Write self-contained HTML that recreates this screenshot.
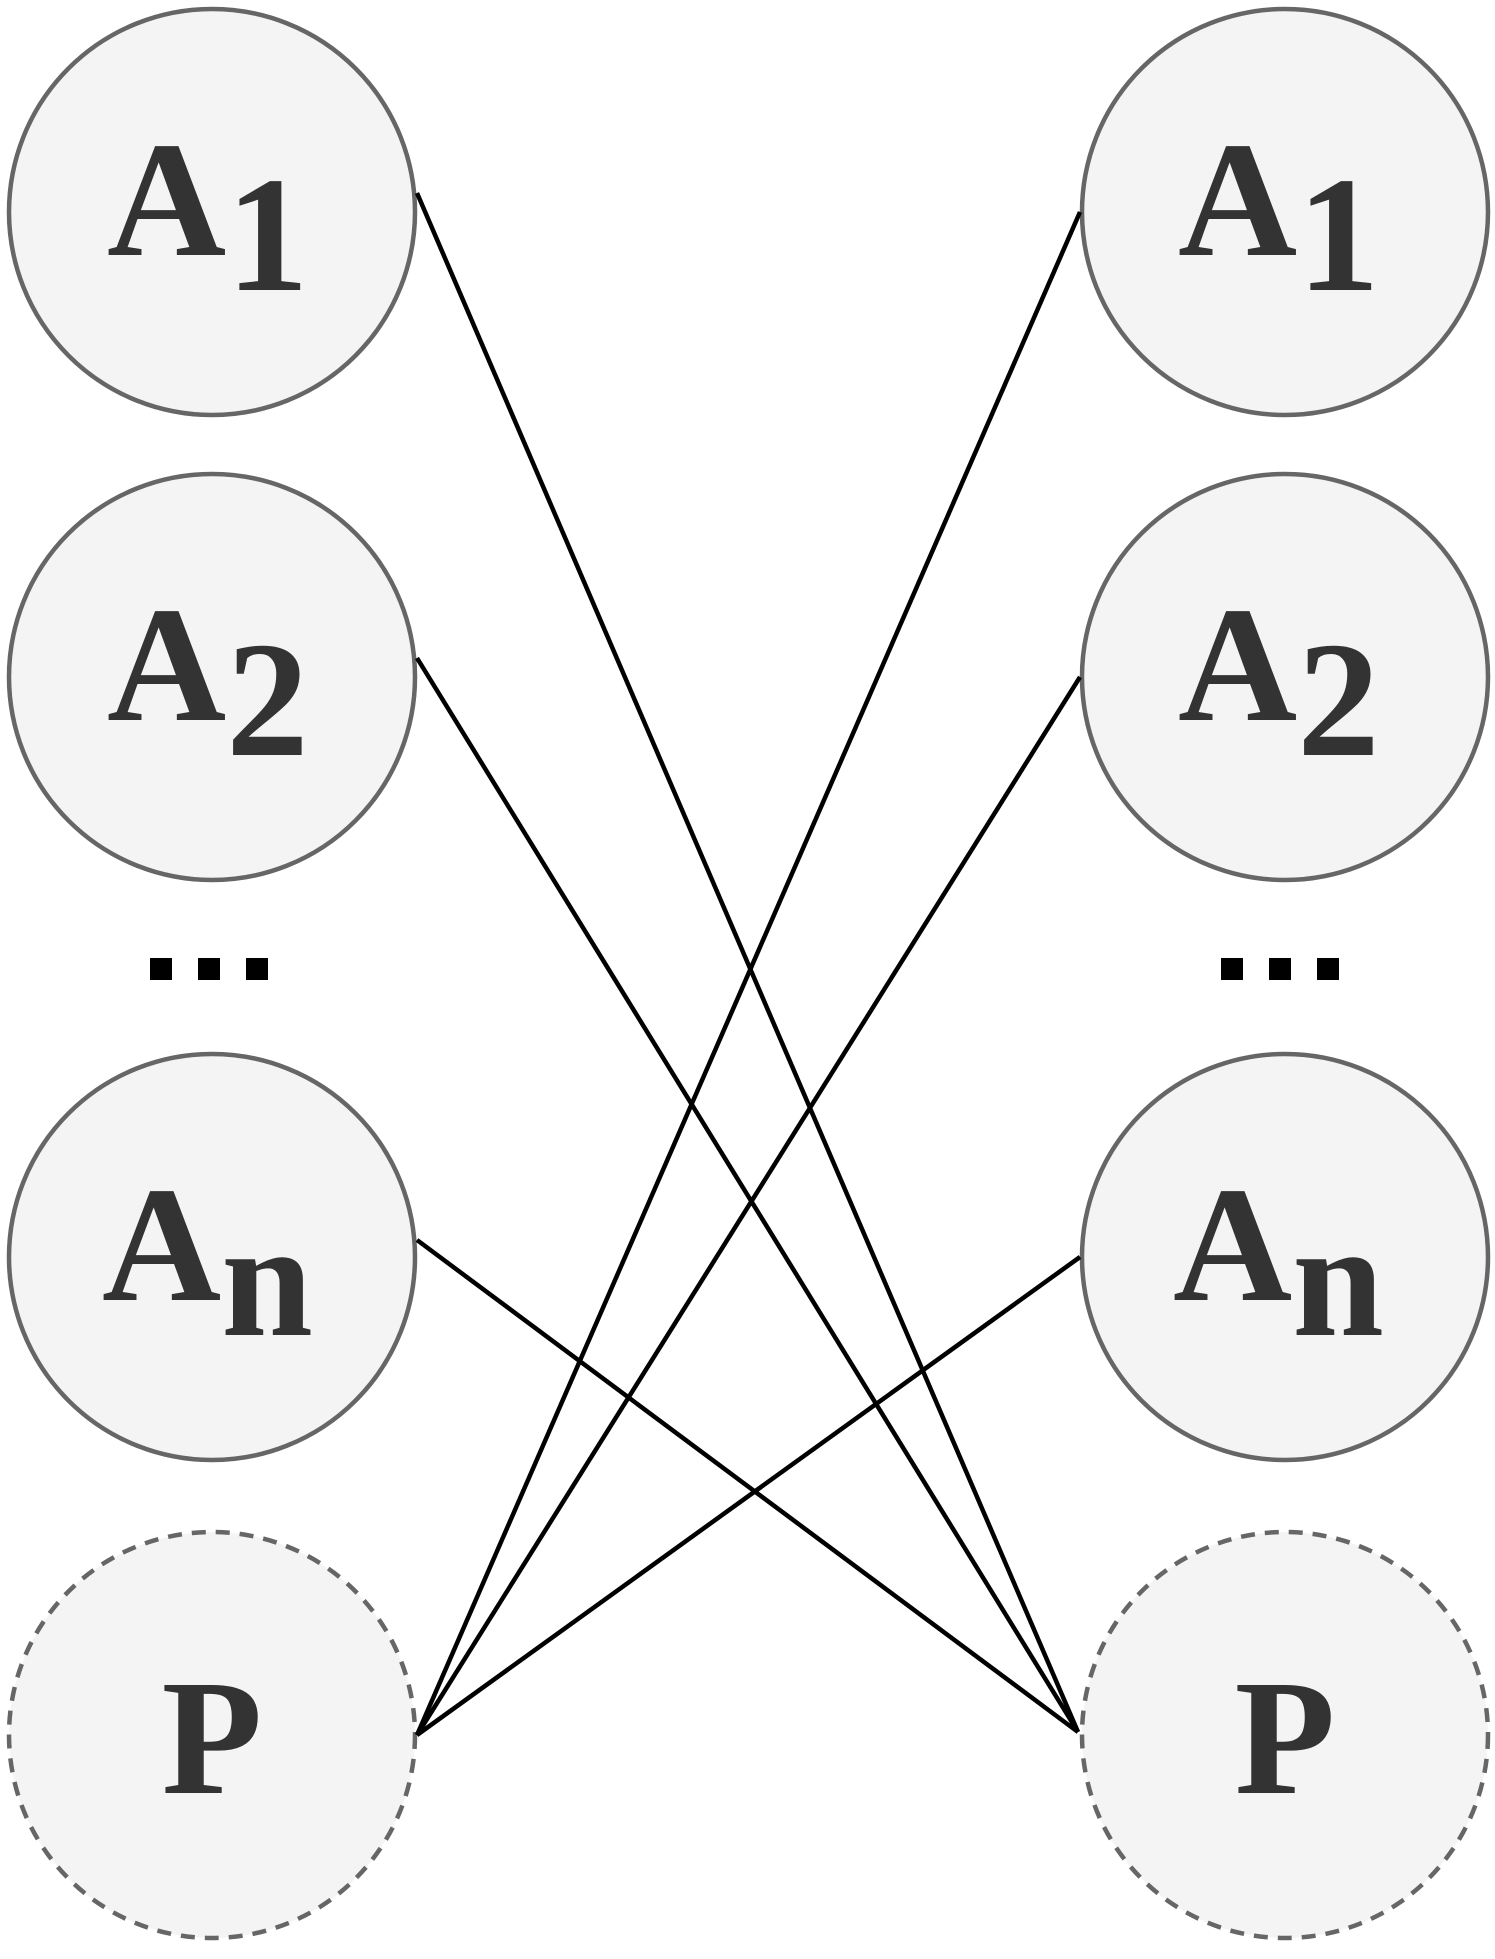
<!DOCTYPE html>
<html><head><style>html,body{margin:0;padding:0;background:#fff}</style></head>
<body>
<svg width="1495" height="1954" viewBox="0 0 1495 1954" xmlns="http://www.w3.org/2000/svg">
<g fill="#f4f4f4" stroke="#666" stroke-width="4.5">
<circle cx="212" cy="212" r="203"/>
<circle cx="212" cy="677" r="203"/>
<circle cx="212" cy="1257" r="203"/>
<circle cx="1285" cy="212" r="203"/>
<circle cx="1285" cy="677" r="203"/>
<circle cx="1285" cy="1257" r="203"/>
<circle cx="212" cy="1735" r="203" stroke-dasharray="14,10"/>
<circle cx="1285" cy="1735" r="203" stroke-dasharray="14,10"/>
</g>
<g stroke="#000" stroke-width="4.5" fill="none">
<line x1="417" y1="193" x2="1078" y2="1732"/>
<line x1="417" y1="658" x2="1078" y2="1732"/>
<line x1="417" y1="1240" x2="1078" y2="1732"/>
<line x1="1080" y1="212" x2="417" y2="1735"/>
<line x1="1080" y1="677" x2="417" y2="1735"/>
<line x1="1080" y1="1257" x2="417" y2="1735"/>
</g>
<g fill="#000">
<rect x="150" y="958" width="22" height="22"/><rect x="198" y="958" width="22" height="22"/><rect x="246" y="958" width="22" height="22"/>
<rect x="1221" y="958" width="22" height="22"/><rect x="1269" y="958" width="22" height="22"/><rect x="1317" y="958" width="22" height="22"/>
</g>
<g font-family="Liberation Serif, serif" font-weight="bold" font-size="165" fill="#333">
<text x="107" y="255">A<tspan dy="35">1</tspan></text>
<text x="107" y="720">A<tspan dy="35">2</tspan></text>
<text x="102" y="1300">A<tspan dy="35">n</tspan></text>
<text x="1178" y="255">A<tspan dy="35">1</tspan></text>
<text x="1178" y="720">A<tspan dy="35">2</tspan></text>
<text x="1173" y="1300">A<tspan dy="35">n</tspan></text>
<text x="212" y="1793" text-anchor="middle">P</text>
<text x="1285" y="1793" text-anchor="middle">P</text>
</g>
</svg>
</body></html>
